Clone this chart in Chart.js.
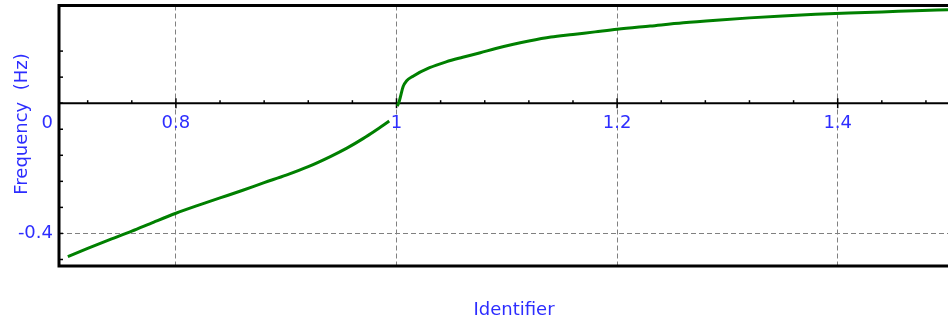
<!DOCTYPE html>
<html>
<head>
<meta charset="utf-8">
<script src="https://cdn.jsdelivr.net/npm/chart.js@4/dist/chart.umd.min.js"></script>
<style>
html,body{margin:0;padding:0;background:#fff;overflow:hidden;}
canvas{display:block;}
</style>
</head>
<body>
<canvas id="c" width="948" height="323"></canvas>
<script>
// ---- data ----
const leftX  = [0.702, 0.72, 0.74, 0.76, 0.78, 0.80, 0.82, 0.84, 0.86, 0.88, 0.90, 0.92, 0.94, 0.955, 0.97, 0.98, 0.9934];
const leftY  = [-0.471, -0.446, -0.419, -0.393, -0.365, -0.338, -0.314, -0.291, -0.268, -0.244, -0.221, -0.195, -0.164, -0.138, -0.108, -0.086, -0.055];
const rightX = [1.0007, 1.0025, 1.0061, 1.009, 1.015, 1.03, 1.045, 1.06, 1.076, 1.09, 1.106, 1.12, 1.14, 1.16, 1.18, 1.20, 1.23, 1.26, 1.29, 1.32, 1.35, 1.38, 1.41, 1.44, 1.47, 1.50];
const rightY = [-0.009, 0.006, 0.052, 0.068, 0.083, 0.109, 0.127, 0.141, 0.155, 0.168, 0.181, 0.191, 0.203, 0.211, 0.219, 0.227, 0.237, 0.247, 0.255, 0.262, 0.268, 0.273, 0.277, 0.280, 0.284, 0.287];

const xTickValues = [0.8, 1.0, 1.2, 1.4];
const xTickLabels = ['0.8', '1', '1.2', '1.4'];
const xMinorTicks = [0.72, 0.76, 0.84, 0.88, 0.92, 0.96, 1.04, 1.08, 1.12, 1.16, 1.24, 1.28, 1.32, 1.36, 1.44, 1.48];
const yTickValues = [0, -0.4];
const yTickLabels = ['0', '-0.4'];
const yMinorTicks = [0.16, 0.08, -0.08, -0.16, -0.24, -0.32, -0.48];
const xTitle = 'Identifier';
const yTitle = 'Frequency  (Hz)';

const BLUE = '#2d2dff';
const FONT = 'DejaVu Sans';
const FSIZE = 18;

const toPts = (xs, ys) => xs.map((x, i) => ({x: x, y: ys[i]}));

const deco = {
  id: 'deco',
  beforeDatasetsDraw(chart) {
    const ctx = chart.ctx, a = chart.chartArea;
    const xs = chart.scales.x, ys = chart.scales.y;
    const y0 = ys.getPixelForValue(0);
    ctx.save();
    ctx.strokeStyle = '#000';
    ctx.lineWidth = 2;
    ctx.beginPath(); ctx.moveTo(a.left, y0); ctx.lineTo(a.right, y0); ctx.stroke();
    ctx.lineWidth = 1.5;
    xTickValues.forEach(v => {
      const p = xs.getPixelForValue(v);
      ctx.beginPath(); ctx.moveTo(p, y0 - 5); ctx.lineTo(p, y0 + 5); ctx.stroke();
    });
    xMinorTicks.forEach(v => {
      const p = xs.getPixelForValue(v);
      ctx.beginPath(); ctx.moveTo(p, y0 - 3); ctx.lineTo(p, y0); ctx.stroke();
    });
    yMinorTicks.concat(yTickValues).forEach(v => {
      const p = ys.getPixelForValue(v);
      ctx.beginPath(); ctx.moveTo(a.left, p); ctx.lineTo(a.left + 4, p); ctx.stroke();
    });
    ctx.restore();
  },
  afterDraw(chart) {
    const ctx = chart.ctx, a = chart.chartArea;
    const ys = chart.scales.y;
    ctx.save();
    ctx.strokeStyle = '#000';
    ctx.lineWidth = 3;
    ctx.beginPath();
    ctx.moveTo(a.right + 2, a.top); ctx.lineTo(a.left, a.top);
    ctx.lineTo(a.left, a.bottom); ctx.lineTo(a.right + 2, a.bottom);
    ctx.stroke();
    ctx.fillStyle = BLUE;
    ctx.font = FSIZE + 'px "' + FONT + '"';
    ctx.textAlign = 'right';
    ctx.textBaseline = 'middle';
    yTickValues.forEach((v, i) => {
      const shift = v === 0 ? 20 : 0;
      ctx.fillText(yTickLabels[i], a.left - 6, ys.getPixelForValue(v) + shift);
    });
    ctx.textAlign = 'center';
    ctx.fillText(xTitle, 514, 310);
    ctx.translate(22, 124);
    ctx.rotate(-Math.PI / 2);
    ctx.fillText(yTitle, 0, 0);
    ctx.restore();
  }
};

new Chart(document.getElementById('c'), {
  type: 'scatter',
  data: {
    datasets: [
      {data: toPts(leftX, leftY)},
      {data: toPts(rightX, rightY)}
    ].map(d => Object.assign(d, {
      showLine: true, borderColor: '#008000', backgroundColor: '#008000',
      borderWidth: 3, pointRadius: 0, tension: 0.3, cubicInterpolationMode: 'monotone'
    }))
  },
  options: {
    responsive: false,
    animation: false,
    devicePixelRatio: 1,
    layout: {padding: {left: 59, top: 5.5, right: 0, bottom: 57}},
    plugins: {legend: {display: false}, tooltip: {enabled: false}},
    scales: {
      x: {
        type: 'linear', min: 0.694, max: 1.5,
        position: {y: 0},
        afterBuildTicks: s => { s.ticks = xTickValues.map(v => ({value: v})); },
        ticks: {
          callback: (v, i) => xTickLabels[i],
          color: BLUE, font: {family: FONT, size: FSIZE},
          padding: 9, maxRotation: 0, autoSkip: false
        },
        grid: {color: '#808080', lineWidth: 1, drawTicks: false, tickLength: 0},
        border: {display: false, dash: [5, 3]}
      },
      y: {
        type: 'linear', min: -0.5, max: 0.3,
        afterBuildTicks: s => { s.ticks = yTickValues.map(v => ({value: v})); },
        ticks: {display: false},
        grid: {
          color: c => (c.tick && c.tick.value === 0) ? 'rgba(0,0,0,0)' : '#808080',
          lineWidth: 1, drawTicks: false, tickLength: 0
        },
        border: {display: false, dash: [5, 3]}
      }
    }
  },
  plugins: [deco]
});
</script>
</body>
</html>
